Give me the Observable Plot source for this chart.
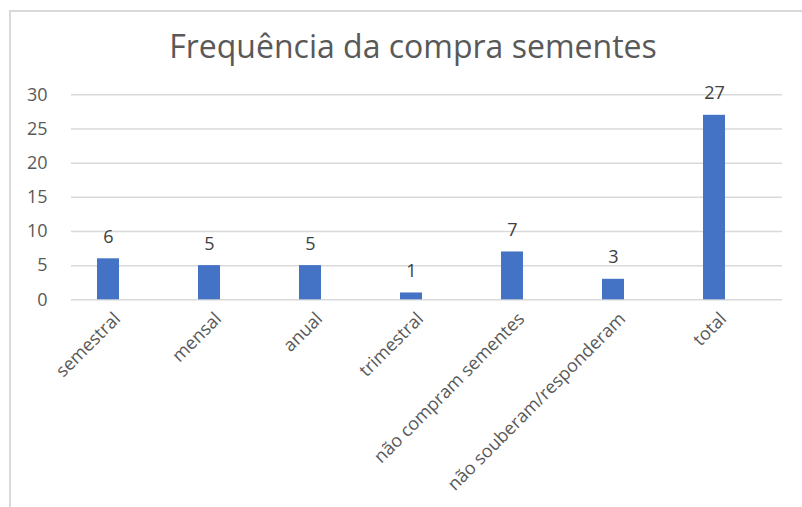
<!DOCTYPE html>
<html>
<head>
<meta charset="utf-8">
<script src="https://cdn.jsdelivr.net/npm/d3@7"></script>
<script src="https://cdn.jsdelivr.net/npm/@observablehq/plot@0.6"></script>
<style>
  html, body { margin: 0; padding: 0; background: #fff; }
  #wrap { position: relative; width: 802px; height: 507px; overflow: hidden; background: #fff; }
  #frame { position: absolute; left: 9px; top: 10px; width: 900px; height: 600px; border-left: 2px solid #d9d9d9; border-top: 2px solid #d9d9d9; }
  #title { position: absolute; left: 413px; top: 30px; transform: translateX(-50%); white-space: nowrap;
           font-family: "Open Sans", sans-serif; font-size: 32px; line-height: 32px; color: #595959; }
  #chart { position: absolute; left: 0; top: 0; }
</style>
</head>
<body>
<div id="wrap">
  <div id="frame"></div>
  <div id="title">Frequência da compra sementes</div>
  <div id="chart"></div>
</div>
<script>
const categories = ["semestral", "mensal", "anual", "trimestral", "não compram sementes", "não souberam/responderam", "total"];
const values = [6, 5, 5, 1, 7, 3, 27];
const yTicks = [0, 5, 10, 15, 20, 25, 30];

const data = categories.map((c, i) => ({category: c, value: values[i]}));

const chart = Plot.plot({
  width: 802,
  height: 507,
  marginLeft: 71,
  marginRight: 20,
  marginTop: 94.3,
  marginBottom: 207.7,
  style: {fontFamily: "'Open Sans', sans-serif", background: "transparent", overflow: "visible"},
  x: {domain: categories, range: [55.7, 766.9], paddingInner: 0.78, paddingOuter: 0.39, align: 0.5},
  y: {domain: [0, 30], nice: false},
  marks: [
    Plot.ruleY(yTicks, {stroke: "#d9d9d9", strokeWidth: 1.5}),
    Plot.barY(data, {x: "category", y: "value", fill: "#4472C4"}),
    Plot.text(data, {x: "category", y: "value", text: d => String(d.value), dy: -16, lineAnchor: "bottom", fontSize: 18, fill: "#404040"}),
    Plot.axisY(yTicks, {tickSize: 0, tickPadding: 24, fontSize: 18, fill: "#595959", label: null}),
    Plot.axisX({tickSize: 0, tickPadding: 8, tickRotate: -45, dx: 9, dy: 8, fontSize: 18, fill: "#595959", label: null})
  ]
});
document.getElementById("chart").appendChild(chart);
</script>
</body>
</html>
